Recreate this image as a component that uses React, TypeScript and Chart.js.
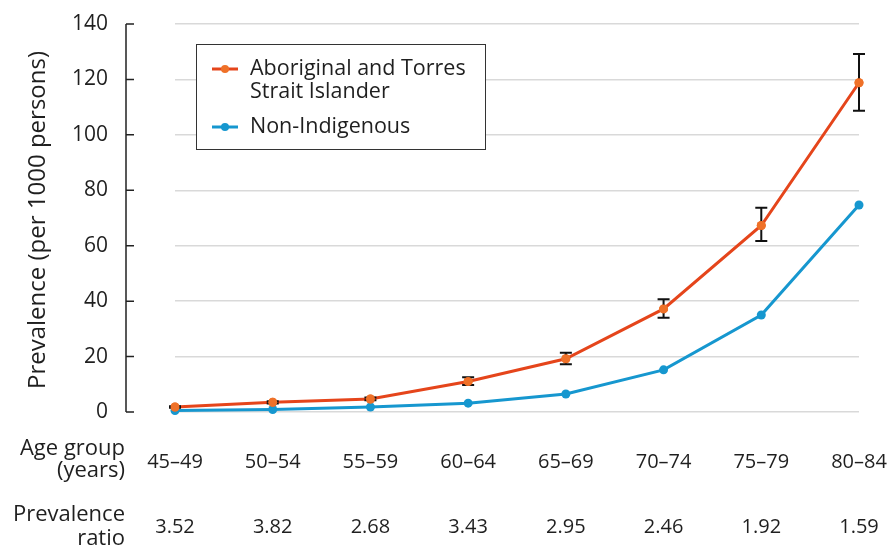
import React, { useEffect, useRef } from "react";
import { Chart, registerables } from "chart.js";

Chart.register(...registerables);

const ageGroups = ["45–49", "50–54", "55–59", "60–64", "65–69", "70–74", "75–79", "80–84"];
const aboriginal = [1.8, 3.5, 4.7, 11.0, 19.2, 37.2, 67.3, 118.8];
const aboriginalLow = [1.5, 3.1, 4.2, 9.7, 17.2, 34.0, 61.7, 108.7];
const aboriginalHigh = [2.1, 3.9, 5.2, 12.5, 21.4, 40.7, 73.7, 129.2];
const nonIndigenous = [0.5, 0.9, 1.8, 3.2, 6.5, 15.2, 35.0, 74.7];
const prevalenceRatio = ["3.52", "3.82", "2.68", "3.43", "2.95", "2.46", "1.92", "1.59"];
const yTicks = [0, 20, 40, 60, 80, 100, 120, 140];
const legendLabels = [["Aboriginal and Torres", "Strait Islander"], ["Non-Indigenous"]];

const FONT = '"Open Sans", sans-serif';
const TEXT = "#1f1f1f";
const ORANGE_LINE = "#e5451b";
const ORANGE_PT = "#ef7128";
const BLUE = "#1697cf";

const overlay = {
  id: "overlay",
  afterDatasetsDraw(chart: any) {
    const ctx = chart.ctx;
    const x = chart.scales.x;
    const y = chart.scales.y;
    ctx.save();
    ctx.strokeStyle = "#111";
    ctx.lineWidth = 2;
    for (let i = 0; i < ageGroups.length; i++) {
      const px = x.getPixelForValue(i);
      const y1 = y.getPixelForValue(aboriginalLow[i]);
      const y2 = y.getPixelForValue(aboriginalHigh[i]);
      ctx.beginPath();
      ctx.moveTo(px, y1);
      ctx.lineTo(px, y2);
      ctx.moveTo(px - 6, y1);
      ctx.lineTo(px + 6, y1);
      ctx.moveTo(px - 6, y2);
      ctx.lineTo(px + 6, y2);
      ctx.stroke();
    }
    const meta = chart.getDatasetMeta(0);
    ctx.fillStyle = ORANGE_PT;
    meta.data.forEach((pt: any) => {
      ctx.beginPath();
      ctx.arc(pt.x, pt.y, 4.5, 0, Math.PI * 2);
      ctx.fill();
    });
    ctx.restore();
  },
  afterDraw(chart: any) {
    const ctx = chart.ctx;
    const x = chart.scales.x;
    const y = chart.scales.y;
    ctx.save();
    const axisX = 126;
    ctx.strokeStyle = "#222";
    ctx.lineWidth = 1.5;
    ctx.beginPath();
    ctx.moveTo(axisX, y.getPixelForValue(yTicks[yTicks.length - 1]));
    ctx.lineTo(axisX, y.getPixelForValue(0));
    yTicks.forEach((t) => {
      const py = y.getPixelForValue(t);
      ctx.moveTo(axisX, py);
      ctx.lineTo(axisX + 8, py);
    });
    ctx.stroke();
    ctx.fillStyle = TEXT;
    ctx.font = `21px ${FONT}`;
    ctx.textAlign = "right";
    ctx.textBaseline = "middle";
    yTicks.forEach((t) => {
      ctx.fillText(String(t), 108, y.getPixelForValue(t));
    });
    ctx.save();
    ctx.translate(38, 220);
    ctx.rotate(-Math.PI / 2);
    ctx.textAlign = "center";
    ctx.font = `24px ${FONT}`;
    ctx.fillText("Prevalence (per 1000 persons)", 0, 0);
    ctx.restore();
    ctx.font = `20px ${FONT}`;
    ctx.textAlign = "center";
    ageGroups.forEach((g, i) => {
      ctx.fillText(g, x.getPixelForValue(i), 462);
    });
    prevalenceRatio.forEach((r, i) => {
      ctx.fillText(r, x.getPixelForValue(i), 527);
    });
    ctx.font = `22px ${FONT}`;
    ctx.textAlign = "right";
    ctx.fillText("Age group", 125, 449);
    ctx.fillText("(years)", 125, 471);
    ctx.fillText("Prevalence", 125, 515);
    ctx.fillText("ratio", 125, 539);
    ctx.fillStyle = "#fff";
    ctx.fillRect(196, 44, 289, 105);
    ctx.strokeStyle = "#333";
    ctx.lineWidth = 1;
    ctx.strokeRect(196.5, 44.5, 289, 105);
    const entries = [
      { line: ORANGE_LINE, pt: ORANGE_PT, y: 69, labels: legendLabels[0] },
      { line: BLUE, pt: BLUE, y: 127, labels: legendLabels[1] },
    ];
    entries.forEach((e) => {
      ctx.strokeStyle = e.line;
      ctx.lineWidth = 3;
      ctx.beginPath();
      ctx.moveTo(212, e.y);
      ctx.lineTo(238, e.y);
      ctx.stroke();
      ctx.fillStyle = e.pt;
      ctx.beginPath();
      ctx.arc(225, e.y, 4, 0, Math.PI * 2);
      ctx.fill();
      ctx.fillStyle = TEXT;
      ctx.textAlign = "left";
      ctx.font = `21.5px ${FONT}`;
      e.labels.forEach((l, k) => {
        ctx.fillText(l, 250, e.y + k * 23);
      });
    });
    ctx.restore();
  },
};

export default function App() {
  const ref = useRef<HTMLCanvasElement>(null);
  useEffect(() => {
    document.body.style.margin = "0";
    const chart = new Chart(ref.current!, {
      type: "line",
      data: {
        labels: ageGroups,
        datasets: [
          {
            label: "Aboriginal and Torres Strait Islander",
            data: aboriginal,
            borderColor: ORANGE_LINE,
            backgroundColor: ORANGE_PT,
            pointBackgroundColor: ORANGE_PT,
            pointBorderWidth: 0,
            pointRadius: 4.5,
            borderWidth: 3,
            tension: 0,
            clip: false as any,
          },
          {
            label: "Non-Indigenous",
            data: nonIndigenous,
            borderColor: BLUE,
            backgroundColor: BLUE,
            pointBackgroundColor: BLUE,
            pointBorderWidth: 0,
            pointRadius: 4.5,
            borderWidth: 3,
            tension: 0,
            clip: false as any,
          },
        ],
      },
      options: {
        animation: false,
        responsive: false,
        events: [],
        layout: { padding: { left: 175, right: 37, top: 24, bottom: 145 } },
        plugins: { legend: { display: false }, tooltip: { enabled: false } },
        scales: {
          x: { type: "category", offset: false, display: false },
          y: {
            min: 0,
            max: 140,
            display: true,
            ticks: { display: false, stepSize: 20 },
            border: { display: false },
            grid: { color: "#d9d9d9", lineWidth: 1.5, drawTicks: false },
          },
        },
      },
      plugins: [overlay],
    });
    return () => chart.destroy();
  }, []);
  return (
    <div style={{ width: 896, height: 557, background: "#fff" }}>
      <canvas ref={ref} width={896} height={557} />
    </div>
  );
}
